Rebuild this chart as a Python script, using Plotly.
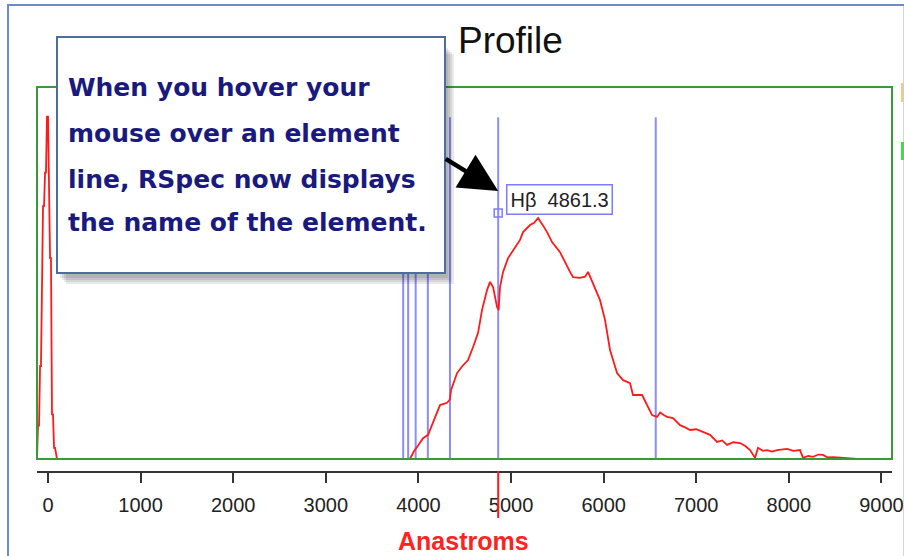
import plotly.graph_objects as go

# ---- spectrum data (wavelength in Angstroms, relative intensity) ----
zero_order_wl = [-119, -108, -97, -86, -76, -65, -54, -43, -32, -22, -11, 0, 11, 22, 32, 43, 54, 65, 76, 86, 97]
zero_order_int = [0.0, 0.09, 0.09, 0.25, 0.25, 0.44, 0.68, 0.68, 0.77, 0.77, 0.92, 0.92, 0.77, 0.54, 0.54, 0.12, 0.12, 0.03, 0.03, 0.01, 0.0]

spectrum_wl = [3909, 3950, 3985, 4050, 4104, 4158, 4233, 4309, 4340, 4352, 4417, 4475, 4536, 4590,
               4644, 4687, 4741, 4773, 4806, 4849, 4866, 4881, 4914, 4968, 5022, 5097, 5130, 5205,
               5250, 5292, 5340, 5389, 5443, 5529, 5637, 5670, 5745, 5800, 5832, 5886, 5961, 6015,
               6069, 6145, 6210, 6285, 6317, 6415, 6469, 6523, 6577, 6610, 6650, 6685, 6749, 6825,
               6880, 6933, 7000, 7063, 7149, 7225, 7280, 7333, 7400, 7473, 7530, 7581, 7635, 7667,
               7720, 7765, 7820, 7873, 7930, 7981, 8050, 8121, 8153, 8210, 8261, 8320, 8369, 8420,
               8477, 8540, 8629, 8737]
spectrum_int = [0.0, 0.02, 0.032, 0.056, 0.065, 0.097, 0.145, 0.151, 0.16, 0.185, 0.231, 0.25, 0.266, 0.301,
                0.339, 0.401, 0.454, 0.476, 0.462, 0.409, 0.40, 0.462, 0.503, 0.540, 0.562, 0.589, 0.610, 0.629,
                0.635, 0.648, 0.630, 0.610, 0.583, 0.556, 0.503, 0.489, 0.487, 0.490, 0.503, 0.473, 0.427, 0.374,
                0.293, 0.231, 0.212, 0.204, 0.172, 0.172, 0.145, 0.118, 0.113, 0.125, 0.118, 0.113, 0.110, 0.091,
                0.085, 0.078, 0.080, 0.073, 0.065, 0.046, 0.050, 0.038, 0.045, 0.043, 0.035, 0.024, 0.003, 0.030,
                0.022, 0.024, 0.020, 0.024, 0.025, 0.027, 0.022, 0.024, 0.003, 0.008, 0.006, 0.012, 0.011, 0.004,
                0.005, 0.003, 0.002, 0.0]

# ---- element lines (Balmer series) ----
element_names = ["H9", "H8", "Hε", "Hδ", "Hγ", "Hβ", "Hα"]
element_wl = [3835.4, 3889.0, 3970.1, 4101.7, 4340.5, 4861.3, 6562.8]
element_top = 0.919

hover_name = "Hβ"
hover_wl = 4861.3
hover_marker_int = 0.661

x_range = [-119, 9114]
y_range = [-0.03226, 1.0]
tick_vals = [0, 1000, 2000, 3000, 4000, 5000, 6000, 7000, 8000, 9000]

callout_lines = ["When you hover your", "mouse over an element",
                 "line, RSpec now displays", "the name of the element."]

W, H = 904, 556
ML, MR, MT, MB = 37, 12, 87, 85
PW, PH = W - ML - MR, H - MT - MB


def px(xp):
    return (xp - ML) / PW


def py(yp):
    return (H - MB - yp) / PH


fig = go.Figure()

# element marker lines
lx, ly = [], []
for w in element_wl:
    lx += [w, w, None]
    ly += [0, element_top, None]
fig.add_trace(go.Scatter(x=lx, y=ly, mode="lines",
                         line=dict(color="#8c8cff", width=2), hoverinfo="skip"))

# zero-order spike and first-order spectrum
fig.add_trace(go.Scatter(x=zero_order_wl, y=zero_order_int, mode="lines",
                         line=dict(color="#ff1a1a", width=1.8)))
fig.add_trace(go.Scatter(x=spectrum_wl, y=spectrum_int, mode="lines",
                         line=dict(color="#ff1a1a", width=1.8)))

# hovered element point
fig.add_trace(go.Scatter(x=[hover_wl], y=[hover_marker_int], mode="markers",
                         marker=dict(symbol="square-open", size=8, color="#7c7cff",
                                     line=dict(width=1.5, color="#7c7cff"))))

shapes = []
# plot frame
shapes.append(dict(type="rect", xref="paper", yref="paper", x0=0, x1=1,
                   y0=py(459), y1=1, line=dict(color="#389a38", width=2),
                   fillcolor="rgba(0,0,0,0)", layer="above"))
# cursor mark under the axis
shapes.append(dict(type="line", xref="x", yref="paper", x0=hover_wl, x1=hover_wl,
                   y0=py(518), y1=0, line=dict(color="#ff1a1a", width=2), layer="above"))
# callout shadow
for i in range(4):
    d = 3 + 2 * i
    shapes.append(dict(type="rect", xref="paper", yref="paper",
                       x0=px(57 + d), x1=px(445 + d), y0=py(273 + d + 2), y1=py(37 + d + 8),
                       line=dict(width=0), fillcolor="rgba(40,40,40,0.10)", layer="above"))
# callout box
shapes.append(dict(type="rect", xref="paper", yref="paper",
                   x0=px(57), x1=px(445), y0=py(273), y1=py(37),
                   line=dict(color="#4d6e9c", width=2), fillcolor="white", layer="above"))
# window edges
shapes.append(dict(type="line", xref="paper", yref="paper", x0=px(8), x1=px(904),
                   y0=py(5), y1=py(5), line=dict(color="#6a8cc8", width=2), layer="above"))
shapes.append(dict(type="line", xref="paper", yref="paper", x0=px(8), x1=px(8),
                   y0=py(4), y1=py(556), line=dict(color="#6a8cc8", width=2), layer="above"))
shapes.append(dict(type="line", xref="paper", yref="paper", x0=px(903.5), x1=px(903.5),
                   y0=py(6), y1=py(556), line=dict(color="#d6d6d6", width=1), layer="above"))
shapes.append(dict(type="rect", xref="paper", yref="paper", x0=px(901), x1=px(904),
                   y0=py(102), y1=py(83), line=dict(width=0), fillcolor="#f3c98a", layer="above"))
shapes.append(dict(type="rect", xref="paper", yref="paper", x0=px(901), x1=px(904),
                   y0=py(160), y1=py(142), line=dict(width=0), fillcolor="#3ee03e", layer="above"))

annotations = []
# title
annotations.append(dict(text="Profile", xref="paper", yref="paper", x=px(511), y=py(41),
                        xanchor="center", yanchor="middle", showarrow=False,
                        font=dict(family="Liberation Sans, Arial", size=37, color="#111111")))
# axis title
annotations.append(dict(text="<b>Anastroms</b>", xref="paper", yref="paper", x=px(463), y=py(541),
                        xanchor="center", yanchor="middle", showarrow=False,
                        font=dict(family="Liberation Sans, Arial", size=25, color="#ff2222")))
# callout text
for line_text, yc in zip(callout_lines, [88, 133, 179, 222]):
    annotations.append(dict(text=f"<b>{line_text}</b>", xref="paper", yref="paper", x=px(66), y=py(yc),
                            xanchor="left", yanchor="middle", showarrow=False,
                            font=dict(family="DejaVu Sans", size=25, color="#1a1a7e")))
# arrow to the hovered line
annotations.append(dict(text="", x=hover_wl, y=(459 - 191) / 372, xref="x", yref="y",
                        showarrow=True, ax=-54, ay=-33, arrowhead=2, arrowsize=1.7,
                        arrowwidth=4.5, arrowcolor="#000000", standoff=0))
# hover label
annotations.append(dict(text=f"{hover_name}\u00a0\u00a0{hover_wl}", x=hover_wl, y=hover_marker_int,
                        xref="x", yref="y", xanchor="left", yanchor="bottom", xshift=8, yshift=-2,
                        showarrow=False, bgcolor="white", bordercolor="#7c7cff", borderwidth=1.5,
                        borderpad=3, font=dict(family="Liberation Sans, Arial", size=20, color="#222222")))

fig.update_layout(
    template="none",
    width=W, height=H,
    margin=dict(l=ML, r=MR, t=MT, b=MB, autoexpand=False),
    paper_bgcolor="white", plot_bgcolor="white",
    showlegend=False,
    shapes=shapes, annotations=annotations,
    xaxis=dict(range=x_range, tickvals=tick_vals, showgrid=False, zeroline=False,
               automargin=False,
               showline=True, linecolor="#333333", linewidth=2,
               ticks="outside", ticklen=10, tickwidth=2, tickcolor="#333333",
               ticklabelstandoff=5,
               tickfont=dict(family="Liberation Sans, Arial", size=20, color="#222222")),
    yaxis=dict(range=y_range, visible=False, showgrid=False, zeroline=False, automargin=False),
)

fig.write_html("out.html")
